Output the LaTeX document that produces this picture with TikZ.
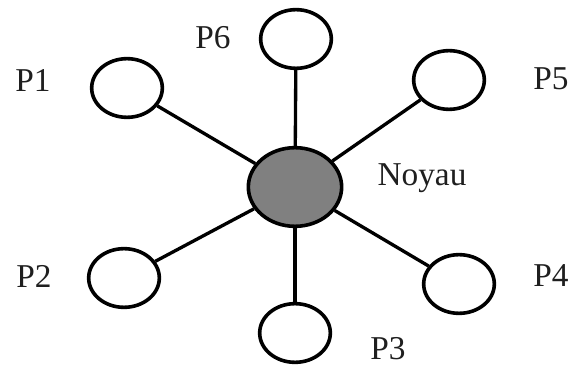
\documentclass[tikz,border=0pt]{standalone}
\usepackage{fontspec}
\setmainfont{Liberation Serif}
\usepackage{tikz}
\usetikzlibrary{positioning, shapes.geometric}
\definecolor{noyaugray}{RGB}{128,128,128}
\tikzset{
	proc/.style = {draw, line width=2.7pt, ellipse, minimum width=53pt, minimum height=44pt, inner sep=0pt},
	noyau/.style = {proc, fill=noyaugray, minimum width=70pt, minimum height=59pt},
	lbl/.style = {font=\fontsize{25}{30}\selectfont, text=black!88, inner sep=0pt}
}

\begin{document}
\begin{tikzpicture}[x=0.75pt, y=-0.75pt]
		\useasboundingbox (0,0) rectangle (572,367);
		\node (n) [noyau] at (295,187) {};
		\node (p1) [proc] at (127,88) {};
		\node (p2) [proc] at (124,278) {};
		\node (p3) [proc] at (295,333) {};
		\node (p4) [proc] at (459,284) {};
		\node (p5) [proc] at (449,80) {};
		\node (p6) [proc] at (296,39) {};
		\node (l1) [lbl] at (33,80) {P1};
		\node (l2) [lbl] at (34,276) {P2};
		\node (l3) [lbl] at (388,349) {P3};
		\node (l4) [lbl] at (551,276) {P4};
		\node (l5) [lbl] at (551,79) {P5};
		\node (l6) [lbl] at (213,38) {P6};
		\node (ln) [lbl] at (422,178) {Noyau};
		\path[line width=2.5pt]
			(n) edge (p1)
			(n) edge (p2)
			(n) edge (p3)
			(n) edge (p4)
			(n) edge (p5)
			(n) edge (p6);
	\end{tikzpicture}
\end{document}
